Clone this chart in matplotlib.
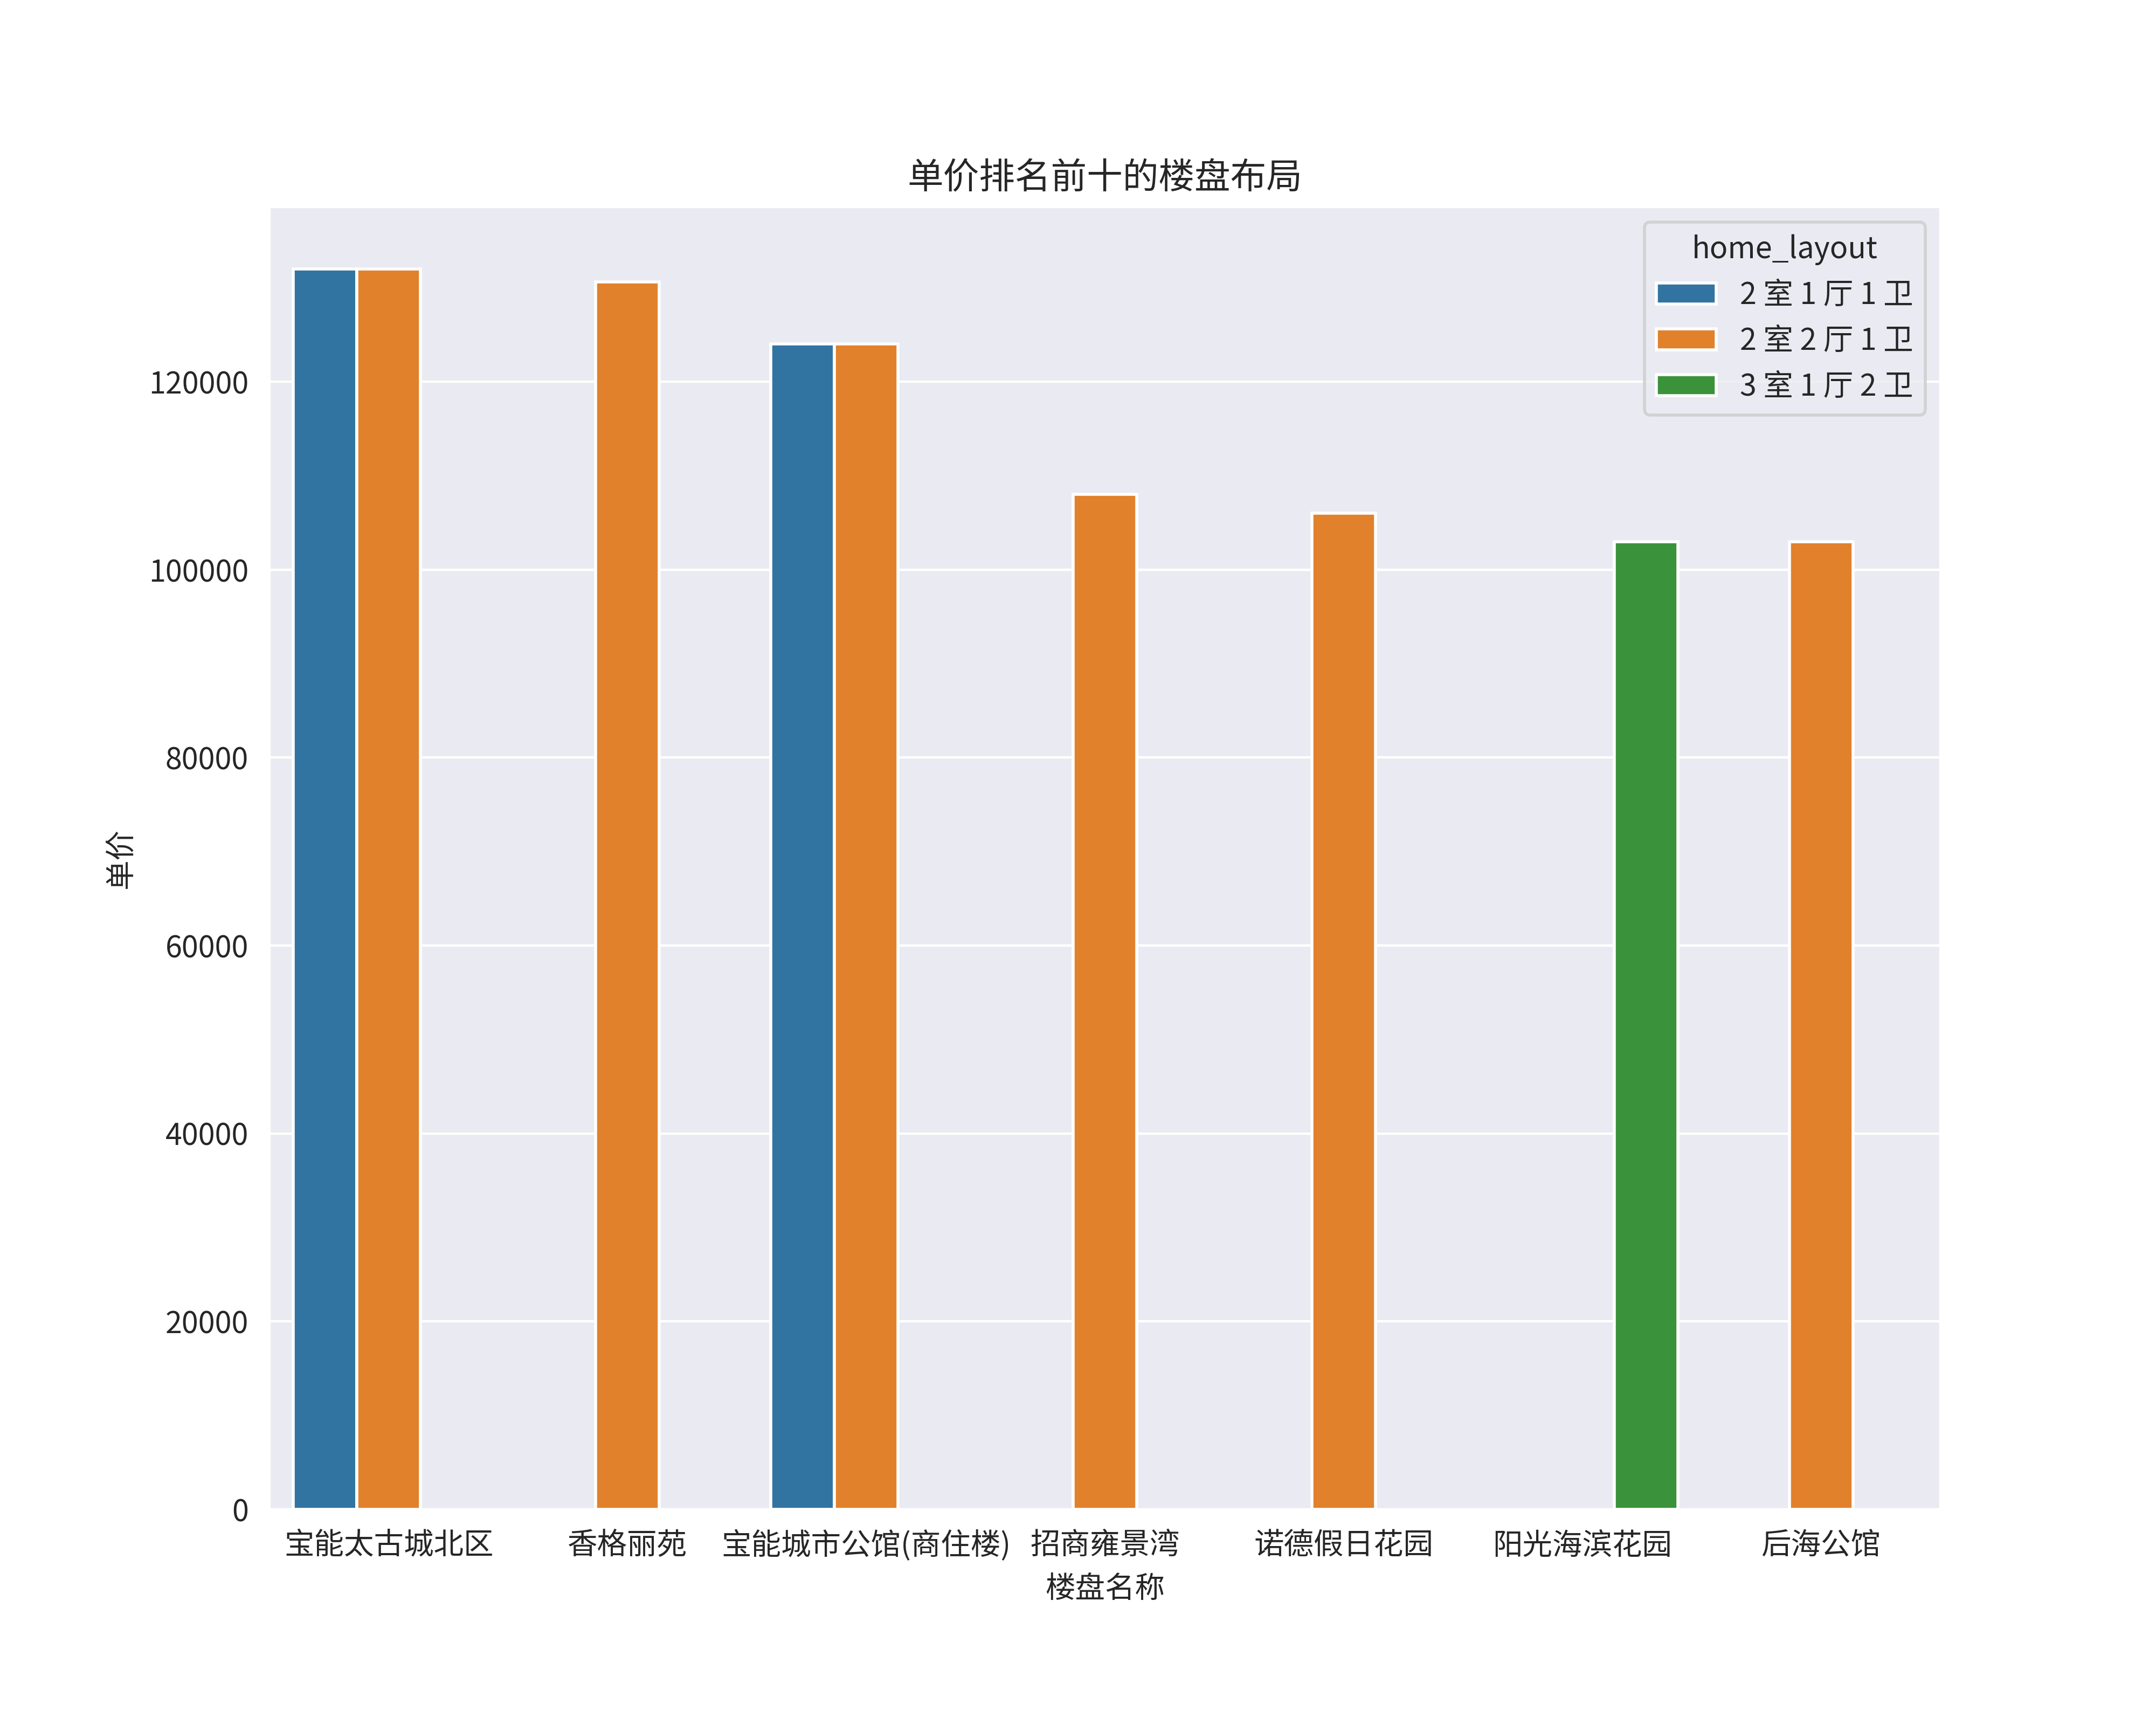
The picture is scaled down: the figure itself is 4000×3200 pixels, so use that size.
import pandas as pd
import matplotlib.pyplot as plt
import seaborn as sns

names = ["宝能太古城北区", "宝能太古城北区", "香格丽苑", "宝能城市公馆(商住楼)", "宝能城市公馆(商住楼)",
         "招商雍景湾", "诺德假日花园", "阳光海滨花园", "后海公馆"]
layouts = ["2 室 1 厅 1 卫", "2 室 2 厅 1 卫", "2 室 2 厅 1 卫", "2 室 1 厅 1 卫", "2 室 2 厅 1 卫",
           "2 室 2 厅 1 卫", "2 室 2 厅 1 卫", "3 室 1 厅 2 卫", "2 室 2 厅 1 卫"]
prices = [132000, 132000, 130600, 124000, 124000, 108000, 106000, 103000, 103000]

name_order = ["宝能太古城北区", "香格丽苑", "宝能城市公馆(商住楼)", "招商雍景湾",
              "诺德假日花园", "阳光海滨花园", "后海公馆"]
layout_order = ["2 室 1 厅 1 卫", "2 室 2 厅 1 卫", "3 室 1 厅 2 卫"]

df = pd.DataFrame({"name": names, "home_layout": layouts, "price": prices})

sns.set_style("darkgrid")
plt.rcParams["font.family"] = ["Noto Sans CJK SC", "DejaVu Sans"]
plt.rcParams["axes.unicode_minus"] = False

plt.figure(figsize=(10, 8), dpi=400)
ax = sns.barplot(data=df, x="name", y="price", hue="home_layout",
                 order=name_order, hue_order=layout_order, errorbar=None)
sns.move_legend(ax, "upper right", title="home_layout")
plt.title("单价排名前十的楼盘布局")
plt.xlabel("楼盘名称")
plt.ylabel("单价")
plt.subplots_adjust(left=0.125, right=0.9, bottom=0.125, top=0.88)
plt.savefig("out.png", dpi=400)
